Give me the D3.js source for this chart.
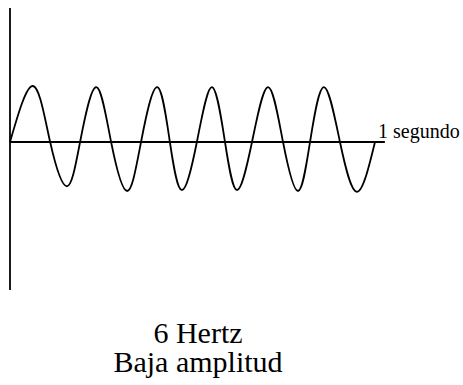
<!DOCTYPE html>
<html>
<head>
<meta charset="utf-8">
<script src="https://cdn.jsdelivr.net/npm/d3@7"></script>
<style>
  body { margin: 0; background: #fff; }
  svg { display: block; }
</style>
</head>
<body>
<script>
// wave: time (s) of each quarter point and relative amplitude
const times = [0, 0.063, 0.110, 0.156, 0.192, 0.236, 0.277, 0.321, 0.359, 0.403, 0.438,
  0.471, 0.512, 0.553, 0.589, 0.622, 0.663, 0.707, 0.748, 0.789, 0.822, 0.860, 0.904, 0.951, 1];
const amps = [0, 1.0, 0, -0.79, 0, 0.98, 0, -0.875, 0, 0.98, 0,
  -0.86, 0, 0.98, 0, -0.86, 0, 0.98, 0, -0.875, 0, 0.98, 0, -0.89, 0];
const axisEnd = 1.027; // horizontal axis runs a little past 1 s
const timeLabel = "1 segundo";
const captions = ["6 Hertz", "Baja amplitud"];

const width = 463;
const height = 385;
const serif = "'Liberation Serif', 'DejaVu Serif', serif";

const svg = d3
  .select("body")
  .append("svg")
  .attr("width", width)
  .attr("height", height);

const x = d3.scaleLinear().domain([0, 1]).range([10, 375]);
const y = d3.scaleLinear().domain([-1, 1]).range([198, 86]);

// vertical axis
svg
  .append("line")
  .attr("x1", x(0))
  .attr("x2", x(0))
  .attr("y1", 8)
  .attr("y2", 290)
  .attr("stroke", "black")
  .attr("stroke-width", 1.8);

// horizontal axis
svg
  .append("line")
  .attr("x1", x(0))
  .attr("x2", x(axisEnd))
  .attr("y1", y(0))
  .attr("y2", y(0))
  .attr("stroke", "black")
  .attr("stroke-width", 1.8);

const points = times.map((t, i) => [t, amps[i]]);
const line = d3
  .line()
  .x((d) => x(d[0]))
  .y((d) => y(d[1]))
  .curve(d3.curveNatural);

svg
  .append("path")
  .datum(points)
  .attr("d", line)
  .attr("fill", "none")
  .attr("stroke", "black")
  .attr("stroke-width", 1.8);

svg
  .append("text")
  .attr("x", 378)
  .attr("y", y(0) - 4)
  .attr("font-family", serif)
  .attr("font-size", 20)
  .text(timeLabel);

svg
  .selectAll(".caption")
  .data(captions)
  .enter()
  .append("text")
  .attr("class", "caption")
  .attr("x", 198)
  .attr("y", (d, i) => 343 + i * 29)
  .attr("text-anchor", "middle")
  .attr("font-family", serif)
  .attr("font-size", 30)
  .text((d) => d);
</script>
</body>
</html>
